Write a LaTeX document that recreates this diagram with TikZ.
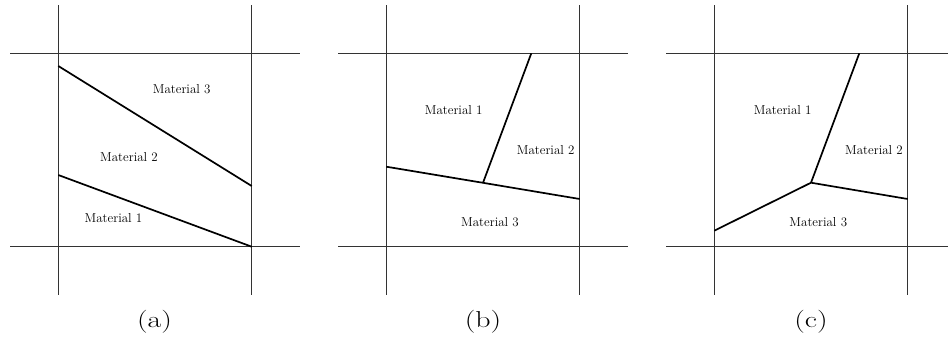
\documentclass[tikz,border=0pt]{standalone}
\usepackage{graphicx}
\newcommand{\widecap}[1]{\scalebox{1.3}[1.0]{#1}}
\begin{document}
\begin{tikzpicture}[x=1pt,y=-1pt,
  gridline/.style={line width=1.1pt, black!80},
  iface/.style={line width=1.7pt, black},
  mat/.style={font=\fontsize{13}{15}\selectfont, inner sep=0pt},
  sublabel/.style={font=\fontsize{23}{27}\selectfont, inner sep=0pt}]
\useasboundingbox (0,0) rectangle (948,338);
\clip (0,0) rectangle (948,338);
% ---------- panel (a)
\begin{scope}
  \draw[gridline] (58.3,5) -- (58.3,295);
  \draw[gridline] (251.7,5) -- (251.7,295);
  \draw[gridline] (10,53.3) -- (300,53.3);
  \draw[gridline] (10,246.7) -- (300,246.7);
  \coordinate (a1) at (58.3,66);
  \coordinate (a2) at (251.7,186);
  \coordinate (a3) at (58.3,175);
  \coordinate (a4) at (251.7,246.7);
  \draw[iface] (a1) -- (a2);
  \draw[iface] (a3) -- (a4);
  \node[mat] (am3) at (181.7,89.3) {Material 3};
  \node[mat] (am2) at (129,157.3) {Material 2};
  \node[mat] (am1) at (113.5,218.5) {Material 1};
  \node[sublabel] (la) at (154.5,321.7) {\widecap{(a)}};
\end{scope}
% ---------- panel (b)
\begin{scope}[xshift=328pt]
  \draw[gridline] (58.3,5) -- (58.3,295);
  \draw[gridline] (251.7,5) -- (251.7,295);
  \draw[gridline] (10,53.3) -- (300,53.3);
  \draw[gridline] (10,246.7) -- (300,246.7);
  \coordinate (b1) at (58.3,166.7);
  \coordinate (b2) at (251.7,199);
  \coordinate (bj) at (155,182.8);
  \coordinate (bt) at (203.3,53.3);
  \draw[iface] (b1) -- (bj) -- (b2);
  \draw[iface] (bj) -- (bt);
  \node[mat] (bm1) at (125.7,110) {Material 1};
  \node[mat] (bm2) at (217.7,150) {Material 2};
  \node[mat] (bm3) at (162,222.5) {Material 3};
  \node[sublabel] (lb) at (155,321.7) {\widecap{(b)}};
\end{scope}
% ---------- panel (c)
\begin{scope}[xshift=656pt]
  \draw[gridline] (58.3,5) -- (58.3,295);
  \draw[gridline] (251.7,5) -- (251.7,295);
  \draw[gridline] (10,53.3) -- (300,53.3);
  \draw[gridline] (10,246.7) -- (300,246.7);
  \coordinate (c1) at (58.3,230.7);
  \coordinate (cj) at (155,182.7);
  \coordinate (c2) at (251.7,199);
  \coordinate (ct) at (203.3,53.3);
  \draw[iface] (c1) -- (cj) -- (c2);
  \draw[iface] (cj) -- (ct);
  \node[mat] (cm1) at (126.7,110) {Material 1};
  \node[mat] (cm2) at (218,150) {Material 2};
  \node[mat] (cm3) at (162.3,222.5) {Material 3};
  \node[sublabel] (lc) at (155,321.7) {\widecap{(c)}};
\end{scope}
\end{tikzpicture}
\end{document}
